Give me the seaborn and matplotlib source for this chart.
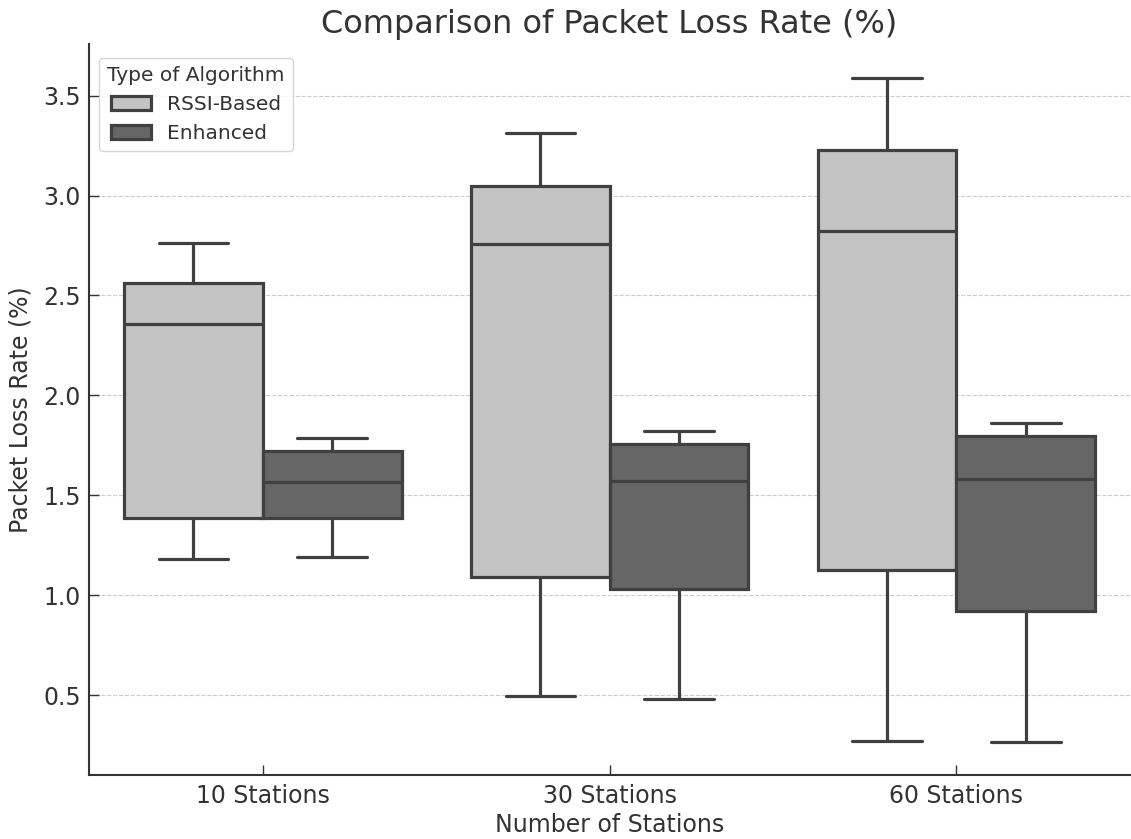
import pandas as pd
import matplotlib.pyplot as plt
import seaborn as sns

# values: min, q1, median, q3, max
stations = ["10 Stations", "30 Stations", "60 Stations"]
algorithms = ["RSSI-Based", "Enhanced"]
rssi_10 = [1.18, 1.385, 2.355, 2.56, 2.765]
rssi_30 = [0.495, 1.09, 2.76, 3.05, 3.315]
rssi_60 = [0.27, 1.125, 2.825, 3.23, 3.59]
enh_10 = [1.19, 1.385, 1.565, 1.72, 1.785]
enh_30 = [0.48, 1.03, 1.57, 1.755, 1.82]
enh_60 = [0.265, 0.92, 1.58, 1.795, 1.86]

rows = []
for st, r, e in zip(stations, [rssi_10, rssi_30, rssi_60], [enh_10, enh_30, enh_60]):
    for v in r:
        rows.append((st, "RSSI-Based", v))
    for v in e:
        rows.append((st, "Enhanced", v))
df = pd.DataFrame(rows, columns=["Number of Stations", "Type of Algorithm", "Packet Loss Rate (%)"])

sns.set_style("white")
plt.rcParams['font.family'] = ['DejaVu Sans']
plt.rcParams['text.color'] = '#333333'
plt.rcParams['axes.labelcolor'] = '#333333'
plt.rcParams['xtick.color'] = '#333333'
plt.rcParams['ytick.color'] = '#333333'
plt.rcParams['xtick.bottom'] = True
plt.rcParams['ytick.left'] = True
plt.rcParams['xtick.direction'] = 'in'
plt.rcParams['ytick.direction'] = 'in'

fig, ax = plt.subplots(figsize=(11.31, 8.39), dpi=100)
sns.boxplot(data=df, x="Number of Stations", y="Packet Loss Rate (%)", hue="Type of Algorithm",
            hue_order=algorithms, order=stations,
            palette={"RSSI-Based": "#c4c4c4", "Enhanced": "#666666"},
            linecolor="#404040", linewidth=2.3, whis=10, width=0.8, ax=ax)

ax.set_title("Comparison of Packet Loss Rate (%)", fontsize=23, color='#333333', pad=8)
ax.set_xlabel("Number of Stations", fontsize=17, labelpad=4)
ax.set_ylabel("Packet Loss Rate (%)", fontsize=17, labelpad=8)
ax.tick_params(axis='both', which='major', labelsize=17, direction='in', length=7, width=1, pad=6)
ax.yaxis.grid(True, linestyle='--', color='#cccccc', linewidth=0.8)
ax.set_axisbelow(True)
for s in ["top", "right"]:
    ax.spines[s].set_visible(False)
for s in ["left", "bottom"]:
    ax.spines[s].set_color('#333333')
    ax.spines[s].set_linewidth(1.5)

leg = ax.legend(title="Type of Algorithm", loc="upper left", fontsize=14.5, title_fontsize=14.5,
                bbox_to_anchor=(0.0, 0.995))

plt.subplots_adjust(left=0.079, right=0.999, top=0.947, bottom=0.076)
plt.savefig("out.png", dpi=100)
